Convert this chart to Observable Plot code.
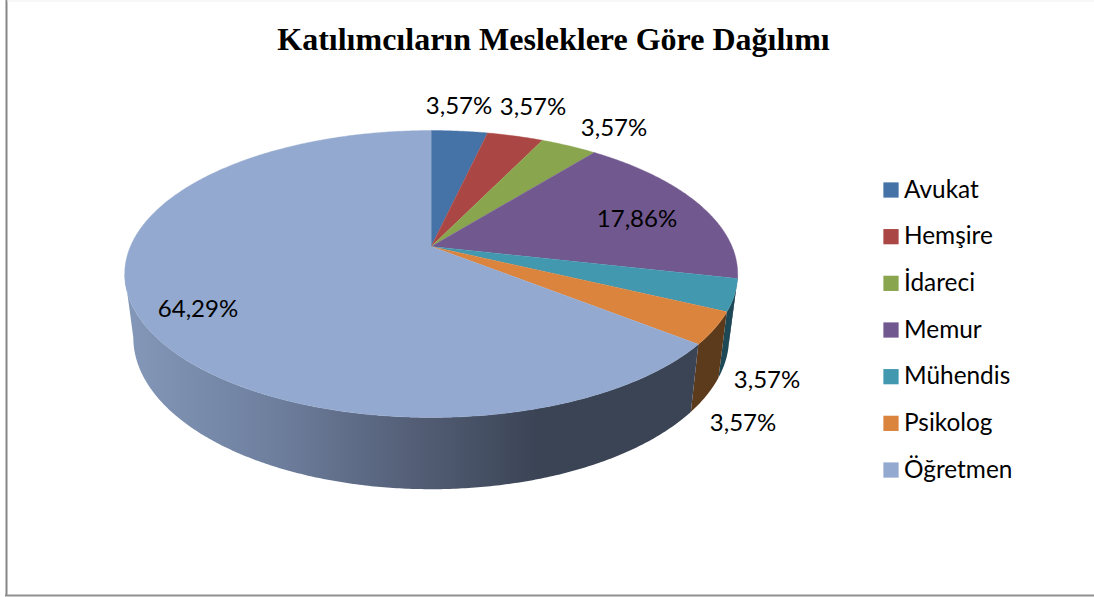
<!DOCTYPE html>
<html>
<head>
<meta charset="utf-8">
<script src="https://cdn.jsdelivr.net/npm/d3@7"></script>
<script src="https://cdn.jsdelivr.net/npm/@observablehq/plot@0.6"></script>
<style>html,body{margin:0;padding:0;background:#fff}svg{display:block}</style>
</head>
<body>
<svg width="0" height="0" style="position:absolute">
  <defs>
    <linearGradient id="wallGrad" x1="0" x2="1" y1="0" y2="0">
      <stop offset="0" stop-color="#8498b9"/>
      <stop offset="0.25" stop-color="#6f809f"/>
      <stop offset="0.5" stop-color="#545f77"/>
      <stop offset="0.72" stop-color="#3b4455"/>
      <stop offset="1" stop-color="#3b4455"/>
    </linearGradient>
  </defs>
</svg>
<div id="chart"></div>
<script>
const chartTitle = "Katılımcıların Mesleklere Göre Dağılımı";
const categories = ["Avukat", "Hemşire", "İdareci", "Memur", "Mühendis", "Psikolog", "Öğretmen"];
const shares = [3.57, 3.57, 3.57, 17.86, 3.57, 3.57, 64.29];
const topColors = ["#4572A7", "#AA4643", "#89A54E", "#71588F", "#4198AF", "#DB843D", "#93A9CF"];
const wallColors = ["#2a4464", "#672a28", "#53642f", "#3f2f52", "#1d4856", "#5c3a1c", "url(#wallGrad)"];

// Label anchor points (layout)
const labelX = [458.5, 532.5, 613.5, 636.5, 766.5, 742.5, 197.5];
const labelY = [105.5, 106.5, 127.5, 218.5, 379.5, 422.5, 308.5];

// Perspective model of the disc (layout)
const W = 1094, H = 597;
const cx = 430.7, cy = 246, k = -0.1916, ax = 300.8, ay = 138.2;
const botScaleX = 0.972, botScaleY = 1.057, botCy = 308;
const wallFrom = 101, wallTo = 259;

const project = deg => {
  const t = deg * Math.PI / 180, u = Math.sin(t), v = -Math.cos(t), d = 1 + k * v;
  return [ax * u / d, ay * v / d];
};
const topPt = deg => { const [x, y] = project(deg); return {x: cx + x, y: cy + y}; };
const botPt = deg => { const [x, y] = project(deg); return {x: cx + x * botScaleX, y: botCy + y * botScaleY}; };
const degs = (a, b) => {
  const n = Math.max(2, Math.ceil(Math.abs(b - a) * 2)), out = [];
  for (let i = 0; i <= n; i++) out.push(a + (b - a) * i / n);
  return out;
};

const total = d3.sum(shares);
const ends = d3.cumsum(shares).map(s => s / total * 360);
const slices = categories.map((name, i) => ({name, i, a: i ? ends[i - 1] : 0, b: ends[i]}));

const topPoints = slices.flatMap(s => [
  {x: cx, y: cy, name: s.name},
  ...degs(s.a, s.b).map(d => ({...topPt(d), name: s.name}))
]);

const wallMarks = slices
  .filter(s => s.b > wallFrom && s.a < wallTo)
  .map(s => {
    const a = Math.max(s.a, wallFrom), b = Math.min(s.b, wallTo);
    const pts = [...degs(a, b).map(topPt), ...degs(b, a).map(botPt)];
    return Plot.line(pts, {x: "x", y: "y", fill: wallColors[s.i], stroke: "none"});
  });

const labels = categories.map((name, i) => ({
  text: shares[i].toFixed(2).replace(".", ",") + "%", x: labelX[i], y: labelY[i]
}));

const legend = categories.map((name, i) => ({name, row: i}));
const legendY = d => 189.5 + d.row * 46.67;

const plot = Plot.plot({
  width: W, height: H,
  margin: 0,
  x: {domain: [0, W], range: [0, W], axis: null},
  y: {domain: [0, H], range: [0, H], axis: null},
  color: {domain: categories, range: topColors},
  style: {background: "#fff"},
  marks: [
    Plot.ruleX([6], {y1: 0, y2: 595, stroke: "#868686", strokeWidth: 2}),
    Plot.ruleY([595], {x1: 5, x2: W, stroke: "#8f8f8f", strokeWidth: 2}),
    Plot.ruleY([0.5], {x1: 7, x2: W, stroke: "#efefef", strokeWidth: 1}),
    ...wallMarks,
    Plot.line(topPoints, {x: "x", y: "y", z: "name", fill: "name", stroke: "name", strokeWidth: 0.4}),
    Plot.text(labels, {x: "x", y: "y", text: "text", fontFamily: "Lato", fontSize: 24, fill: "#000"}),
    Plot.dot(legend, {x: () => 890.5, y: legendY, fill: "name", symbol: "square", r: 8.6, stroke: "none"}),
    Plot.text(legend, {x: () => 903.5, y: legendY, text: "name", textAnchor: "start", fontFamily: "Lato", fontSize: 24.4, fill: "#000"}),
    Plot.text([chartTitle], {x: () => 553, y: () => 39, text: d => d, fontFamily: "Liberation Serif", fontWeight: "bold", fontSize: 32, fill: "#000"})
  ]
});
document.getElementById("chart").appendChild(plot);
</script>
</body>
</html>
